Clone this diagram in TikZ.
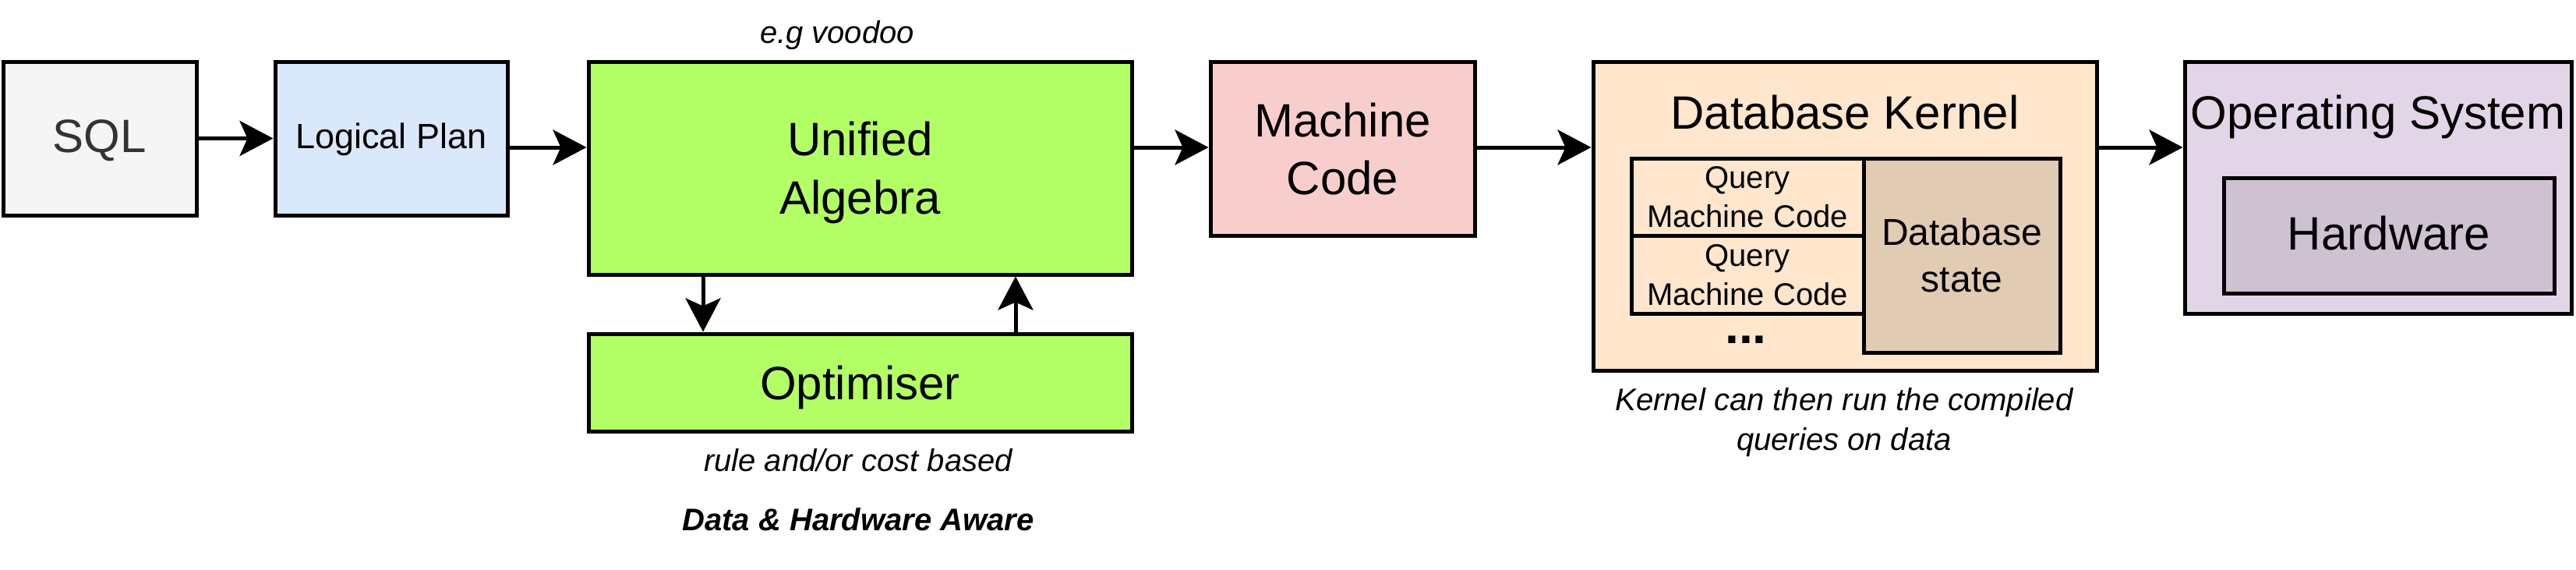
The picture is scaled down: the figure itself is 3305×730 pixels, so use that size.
\documentclass[tikz,border=0pt]{standalone}
\usepackage{fontspec}
\setmainfont{Liberation Sans}
\usetikzlibrary{arrows.meta}
\definecolor{sqlfill}{HTML}{F5F5F5}
\definecolor{sqltext}{HTML}{333333}
\definecolor{lpfill}{HTML}{DAE8FC}
\definecolor{greenfill}{HTML}{B3FF66}
\definecolor{mcfill}{HTML}{F8CECC}
\definecolor{kfill}{HTML}{FFE6CC}
\definecolor{dbfill}{HTML}{E2CBB3}
\definecolor{osfill}{HTML}{E1D5E7}
\definecolor{hwfill}{HTML}{CDC1D2}
\tikzset{
  box/.style={draw=black, line width=2.5pt, inner sep=0pt, align=center},
  big/.style={font=\fontsize{30pt}{37pt}\selectfont, text height=21.5pt, text depth=0pt},
  bigtwo/.style={font=\fontsize{30pt}{37.5pt}\selectfont, text height=59pt, text depth=0pt},
  midtwo/.style={font=\fontsize{24pt}{30pt}\selectfont, text height=47.2pt, text depth=0pt},
  lp/.style={font=\fontsize{22.5pt}{27pt}\selectfont, text height=16.1pt, text depth=3.5pt},
  smalltwo/.style={font=\fontsize{20pt}{25pt}\selectfont, text height=39.3pt, text depth=0pt},
  caption/.style={inner sep=0pt, align=center, font=\fontsize{20pt}{25.5pt}\selectfont\itshape},
  arr/.style={line width=2.5pt, -{Stealth[length=21.5pt, width=22.5pt, inset=5pt]}},
}
\begin{document}
\begin{tikzpicture}[x=0.5pt, y=-0.5pt]
\useasboundingbox (0,0) rectangle (3305,730);
% boxes
\node[box, big, text depth=4pt, fill=sqlfill, text=sqltext, minimum width=124pt, minimum height=98.5pt] (sql) at (128,177.5) {SQL};
\node[box, lp, fill=lpfill, minimum width=149pt, minimum height=98.5pt] (lplan) at (502,177.5) {Logical Plan};
\node[box, bigtwo, fill=greenfill, minimum width=348.5pt, minimum height=136.5pt] (ua) at (1103.5,215.5) {Unified\\Algebra};
\node[box, big, fill=greenfill, minimum width=348.5pt, minimum height=62.5pt] (opt) at (1103.5,490.5) {Optimiser};
\node[box, bigtwo, font=\fontsize{30pt}{37pt}\selectfont, text height=58.5pt, fill=mcfill, minimum width=169.5pt, minimum height=111.5pt] (mc) at (1722.5,190.5) {Machine\\Code};
\node[box, fill=kfill, minimum width=323pt, minimum height=198pt] (kern) at (2367,277) {};
\node[inner sep=0pt, big, anchor=base] (kernlabel) at (2367,165) {Database Kernel};
\node[box, smalltwo, fill=kfill, minimum width=149pt, minimum height=49.5pt] (q1) at (2242,252.5) {Query\\Machine Code};
\node[box, smalltwo, fill=kfill, minimum width=149pt, minimum height=50pt] (q2) at (2242,352) {Query\\Machine Code};
\node[box, midtwo, fill=dbfill, minimum width=126pt, minimum height=124.5pt] (dbs) at (2517,327.5) {Database\\state};
\node[inner sep=0pt, anchor=base, font=\fontsize{32pt}{32pt}\selectfont\bfseries] (dots) at (2240,440) {...};
\node[box, fill=osfill, minimum width=248pt, minimum height=161.5pt] (os) at (3051,240.5) {};
\node[inner sep=0pt, big, anchor=base] (oslabel) at (3051,165) {Operating System};
\node[box, big, text depth=3.5pt, fill=hwfill, minimum width=212pt, minimum height=74pt] (hw) at (3065,302) {Hardware};
% captions
\node[caption, anchor=base] (voodoo) at (1074,55) {e.g voodoo};
\node[caption, anchor=base] (rule) at (1101,604) {rule and/or cost based};
\node[caption, anchor=base, font=\fontsize{20pt}{24pt}\selectfont\bfseries\itshape] (aware) at (1101,680) {Data \& Hardware Aware};
\node[caption, text height=39.8pt, text depth=0pt] (kcap) at (2366,537.5) {Kernel can then run the compiled\\queries on data};
% helper coordinates
\coordinate (y189) at (0,189);
\coordinate (xdown) at (902,0);
\coordinate (xup) at (1303,0);
% connectors
\draw[arr] (sql.east) -- (lplan.west);
\draw[arr] (lplan.east |- y189) -- (ua.west |- y189);
\draw[arr] (ua.east |- y189) -- (mc.west |- y189);
\draw[arr] (mc.east |- y189) -- (kern.west |- y189);
\draw[arr] (kern.east |- y189) -- (os.west |- y189);
\draw[arr] (ua.south -| xdown) -- (opt.north -| xdown);
\draw[arr] (opt.north -| xup) -- (ua.south -| xup);
\end{tikzpicture}
\end{document}
